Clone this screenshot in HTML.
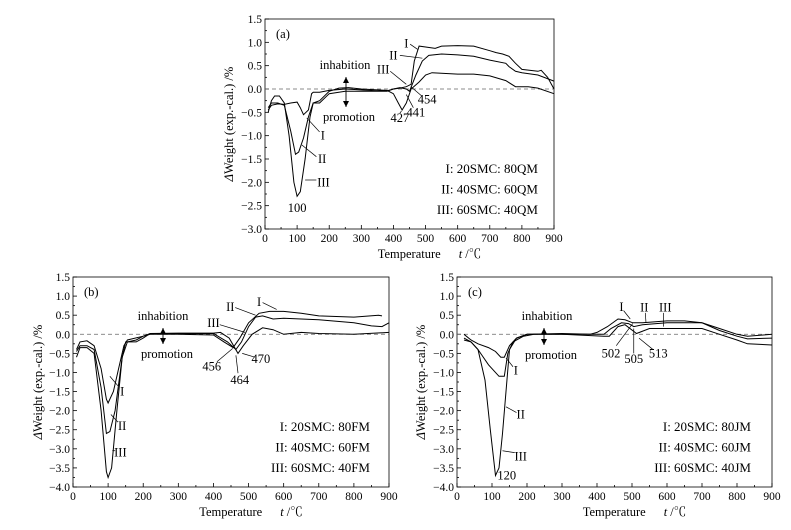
<!DOCTYPE html>
<html><head><meta charset="utf-8"><style>
html,body{margin:0;padding:0;background:#fff;}
svg{display:block;}
svg text{font-family:"Liberation Serif","Times New Roman","Noto Serif CJK SC",serif;}
</style></head><body>
<svg id="fig" width="791" height="530" viewBox="0 0 791 530" xmlns="http://www.w3.org/2000/svg" font-family="Liberation Serif, serif"></svg>
<script>
// ---- data ----
const xTicks = [0,100,200,300,400,500,600,700,800,900];
const yTicksA = [1.5,1.0,0.5,0.0,-0.5,-1.0,-1.5,-2.0,-2.5,-3.0];
const yTicksBC = [1.5,1.0,0.5,0.0,-0.5,-1.0,-1.5,-2.0,-2.5,-3.0,-3.5,-4.0];

const a_I = [[10,-0.45],[20,-0.35],[40,-0.32],[60,-0.33],[80,-0.3],[100,-0.28],[110,-0.4],[120,-0.55],[135,-0.45],[145,-0.1],[150,-0.07],[170,-0.07],[200,-0.03],[250,0.0],[300,-0.02],[350,-0.04],[380,-0.04],[400,0.0],[420,0.02],[440,0.05],[455,0.1],[465,0.6],[480,0.92],[500,0.9],[530,0.87],[550,0.92],[600,0.93],[650,0.92],[700,0.82],[720,0.78],[740,0.75],[760,0.7],[780,0.55],[800,0.42],[850,0.38],[860,0.4],[880,0.25],[900,0.0]];
const a_II = [[10,-0.4],[20,-0.3],[40,-0.3],[60,-0.35],[80,-0.9],[95,-1.4],[105,-1.35],[120,-1.05],[135,-0.6],[150,-0.3],[170,-0.3],[200,-0.1],[250,-0.05],[300,-0.05],[380,-0.05],[400,0.0],[420,0.03],[440,0.0],[450,-0.05],[470,0.3],[490,0.6],[510,0.72],[550,0.75],[600,0.73],[650,0.7],[700,0.62],[750,0.55],[760,0.48],[780,0.38],[800,0.35],[850,0.3],[900,0.17]];
const a_III = [[10,-0.5],[20,-0.25],[30,-0.15],[45,-0.15],[60,-0.3],[75,-1.0],[90,-2.0],[100,-2.3],[110,-2.2],[125,-1.5],[140,-0.6],[150,-0.3],[170,-0.25],[200,-0.05],[230,0.02],[260,0.03],[300,0.0],[380,-0.03],[400,-0.1],[415,-0.3],[427,-0.45],[440,-0.3],[455,0.0],[480,0.15],[500,0.3],[520,0.35],[600,0.32],[650,0.32],[700,0.28],[750,0.18],[780,0.05],[820,0.05],[850,0.02],[900,-0.1]];

const b_I = [[10,-0.4],[20,-0.2],[40,-0.17],[60,-0.3],[80,-0.9],[95,-1.7],[100,-1.8],[115,-1.5],[130,-0.9],[145,-0.3],[155,-0.15],[200,-0.05],[220,0.0],[300,0.0],[400,-0.02],[430,-0.2],[456,-0.35],[475,-0.1],[500,0.3],[530,0.55],[560,0.6],[600,0.6],[650,0.55],[700,0.48],[800,0.45],[870,0.5],[880,0.48]];
const b_II = [[10,-0.45],[20,-0.3],[40,-0.3],[60,-0.4],[80,-1.4],[95,-2.6],[105,-2.55],[120,-2.0],[140,-0.6],[155,-0.2],[180,-0.15],[200,-0.05],[220,0.02],[400,0.02],[440,-0.2],[464,-0.4],[480,-0.2],[500,0.2],[520,0.45],[540,0.48],[570,0.4],[600,0.42],[700,0.38],[800,0.3],[850,0.22],[880,0.2],[900,0.3]];
const b_III = [[10,-0.6],[20,-0.35],[40,-0.35],[60,-0.5],[80,-2.0],[95,-3.6],[100,-3.75],[110,-3.5],[125,-2.0],[140,-0.6],[150,-0.2],[180,-0.2],[200,-0.1],[220,0.02],[300,0.03],[400,0.03],[420,0.05],[445,-0.1],[470,-0.5],[485,-0.3],[510,0.0],[540,0.17],[570,0.12],[600,0.0],[650,0.05],[700,0.02],[800,0.0],[900,0.05]];

const c_I = [[20,0.0],[40,-0.15],[60,-0.25],[90,-0.35],[110,-0.45],[125,-0.6],[135,-0.6],[150,-0.3],[170,-0.1],[200,0.0],[300,0.02],[380,0.0],[400,0.05],[430,0.2],[460,0.4],[480,0.38],[502,0.3],[530,0.3],[600,0.35],[650,0.35],[700,0.3],[750,0.15],[800,0.0],[830,-0.05],[900,0.0]];
const c_II = [[20,-0.15],[40,-0.2],[60,-0.4],[90,-0.8],[120,-1.1],[135,-1.1],[145,-0.5],[160,-0.2],[190,-0.05],[220,0.0],[300,0.0],[420,0.0],[440,0.15],[470,0.3],[490,0.28],[505,0.2],[530,0.25],[600,0.3],[700,0.3],[750,0.1],[800,-0.05],[830,-0.12],[900,-0.1]];
const c_III = [[20,-0.1],[40,-0.2],[60,-0.4],[80,-1.2],[95,-2.5],[110,-3.7],[120,-3.5],[130,-2.6],[140,-1.5],[150,-0.4],[170,-0.1],[200,0.0],[300,0.0],[420,-0.05],[435,-0.05],[460,0.2],[480,0.25],[513,0.02],[550,0.15],[600,0.15],[700,0.15],[750,0.0],[800,-0.15],[830,-0.25],[900,-0.28]];

const legendA = ["I: 20SMC: 80QM","II: 40SMC: 60QM","III: 60SMC: 40QM"];
const legendB = ["I: 20SMC: 80FM","II: 40SMC: 60FM","III: 60SMC: 40FM"];
const legendC = ["I: 20SMC: 80JM","II: 40SMC: 60JM","III: 60SMC: 40JM"];

// annotations: [text, textT, textV, lineT1, lineV1, lineT2, lineV2]
const annA = [["I",180,-1.0,130,-0.62,170,-0.92],["II",178,-1.5,115,-1.2,160,-1.45],["III",182,-2.0,125,-1.95,160,-1.95],["100",100,-2.55],
  ["427",420,-0.62,425,-0.47,420,-0.52],["441",470,-0.5,440,-0.12,462,-0.4],["454",505,-0.22,454,0.05,490,-0.16],
  ["I",440,0.98,452,0.96,475,0.85],["II",400,0.72,420,0.72,490,0.66],["III",368,0.42,390,0.38,440,0.1]];
const annB = [["I",140,-1.5,105,-1.1,128,-1.35],["II",140,-2.4,108,-2.1,128,-2.3],["III",135,-3.1,112,-3.05,120,-3.05],
  ["I",530,0.85,540,0.83,580,0.65],["II",448,0.72,462,0.7,520,0.5],["III",400,0.3,418,0.25,490,0.05],
  ["456",395,-0.85,410,-0.72,455,-0.37],["464",475,-1.2,470,-1.02,464,-0.55],["470",535,-0.65,518,-0.6,482,-0.5]];
const annC = [["I",168,-0.95,140,-0.62,160,-0.85],["II",182,-2.1,140,-1.9,170,-2.05],["III",182,-3.2,130,-3.05,165,-3.1],["120",142,-3.7],
  ["I",470,0.72,476,0.62,495,0.4],["II",535,0.7,538,0.56,540,0.3],["III",595,0.7,590,0.56,590,0.2],
  ["502",440,-0.5,455,-0.3,502,0.28],["505",505,-0.65,505,-0.5,505,0.15],["513",575,-0.5,560,-0.4,520,-0.1]];

// ---- drawing ----
const NS="http://www.w3.org/2000/svg";
const svg=document.getElementById('fig');
function mk(tag,attrs,parent,txt){const e=document.createElementNS(NS,tag);for(const k in attrs)e.setAttribute(k,attrs[k]);if(txt!==undefined)e.textContent=txt;(parent||svg).appendChild(e);return e;}

function panel(id,L,R,T,B,ymin,ymax,yTicks,series,legend,ann,lab,legX,inh,ytitleX){
  const g=mk('g',{});
  
  
  const sx=t=>L+(t-0)/(900)*(R-L);
  const sy=v=>T+(ymax-v)/(ymax-ymin)*(B-T);
  const fr=mk('rect',{x:L,y:T,width:R-L,height:B-T,fill:'none',stroke:'#000','stroke-width':0.8},g);
  
  
  xTicks.forEach((t,i)=>{
    mk('line',{x1:sx(t),y1:B,x2:sx(t),y2:B-4,stroke:'#000','stroke-width':0.8},g);
    if(i<xTicks.length-1) mk('line',{x1:sx(t+50),y1:B,x2:sx(t+50),y2:B-2,stroke:'#000','stroke-width':0.8},g);
    const tx=mk('text',{x:sx(t),y:B+13,'font-size':11.5,'text-anchor':'middle'},g,String(t));
    
    
  });
  yTicks.forEach((v,i)=>{
    mk('line',{x1:L,y1:sy(v),x2:L+4,y2:sy(v),stroke:'#000','stroke-width':0.8},g);
    if(i<yTicks.length-1) mk('line',{x1:L,y1:sy(v-0.25),x2:L+2,y2:sy(v-0.25),stroke:'#000','stroke-width':0.8},g);
    const tx=mk('text',{x:L-3,y:sy(v)+4,'font-size':11.5,'text-anchor':'end'},g,(v<0?'\u2212':'')+Math.abs(v).toFixed(1));
    
    
  });
  const z=mk('line',{x1:L,y1:sy(0),x2:R,y2:sy(0),stroke:'#666','stroke-width':0.7,'stroke-dasharray':'4,3'},g);
  
  
  const names=['I','II','III'];
  series.forEach((s,i)=>{
    const p=mk('path',{d:s.map((q,j)=>(j?'L':'M')+sx(q[0]).toFixed(1)+','+sy(q[1]).toFixed(1)).join(''),fill:'none',stroke:'#000','stroke-width':1},g);
    
    
  });
  ann.forEach(a=>{
    if(a.length>3) mk('line',{x1:sx(a[3]),y1:sy(a[4]),x2:sx(a[5]),y2:sy(a[6]),stroke:'#000','stroke-width':0.7},g);
    const tx=mk('text',{x:sx(a[1]),y:sy(a[2])+4,'font-size':12.5,'text-anchor':'middle'},g,a[0]);
    
    
  });
  legend.forEach((s,i)=>{
    const tx=mk('text',{x:legX,y:sy(yTicks[yTicks.length-1])-60+i*20.5+4,'font-size':13,'text-anchor':'end'},g,s);
    
    
  });
  const pl=mk('text',{x:L+11,y:T+19,'font-size':12.5},g,lab);
  
  
  const ti=mk('text',{x:inh[0],y:inh[1],'font-size':12.5,'text-anchor':'middle'},g,'inhabition');
  
  
  const a1=inh[1]+8, a2=inh[1]+inh[3]-14;
  mk('line',{x1:inh[2],y1:a1,x2:inh[2],y2:a2,stroke:'#000','stroke-width':0.9},g);
  mk('path',{d:`M${inh[2]-3},${a1+6}L${inh[2]},${a1}L${inh[2]+3},${a1+6}Z M${inh[2]-3},${a2-6}L${inh[2]},${a2}L${inh[2]+3},${a2-6}Z`,fill:'#000'},g);
  const tp=mk('text',{x:inh[0]+4,y:inh[1]+inh[3],'font-size':12.5,'text-anchor':'middle'},g,'promotion');
  
  
  const xt=mk('text',{x:(L+R)/2+20,y:B+29,'font-size':12.5,'text-anchor':'middle'},g);
  
  
  mk('tspan',{},xt,'Temperature');
  mk('tspan',{dx:18,'font-style':'italic'},xt,'t');
  mk('tspan',{},xt,' /\u2103');
  const cy=(T+B)/2;
  const yt=mk('text',{x:ytitleX,y:cy,'font-size':12.5,'text-anchor':'middle',transform:`rotate(-90 ${ytitleX} ${cy})`},g);
  
  
  mk('tspan',{'font-style':'italic'},yt,'\u0394');
  mk('tspan',{},yt,'Weight (exp.-cal.) /%');
}
panel('a',265,554,19,229,-3,1.5,yTicksA,[a_I,a_II,a_III],legendA,annA,'(a)',538,[345,69,346,52],233);
panel('b',73,389,277,487,-4,1.5,yTicksBC,[b_I,b_II,b_III],legendB,annB,'(b)',370,[163,320,163,38],42);
panel('c',457,772,277,487,-4,1.5,yTicksBC,[c_I,c_II,c_III],legendC,annC,'(c)',751,[547,320,544,39],425);
</script>
</body></html>
